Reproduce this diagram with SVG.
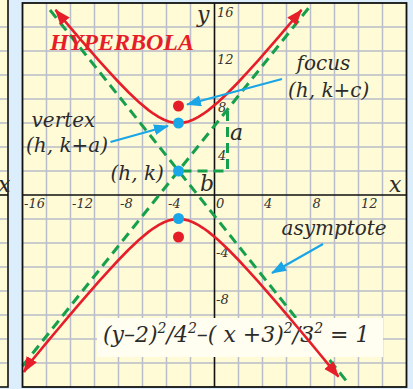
<svg xmlns="http://www.w3.org/2000/svg" width="413" height="389" viewBox="0 0 413 389">
<style>
.grid{stroke:#b9bcc9;stroke-width:1.5;fill:none}
.axis{stroke:#111;stroke-width:1.6;fill:none}
.asym{stroke:#17a04c;stroke-width:3;stroke-dasharray:10 6;fill:none}
.curve{stroke:#e61e2a;stroke-width:2.6;fill:none}
.call{stroke:#19a5e6;stroke-width:2.2;fill:none}
.lbl{font-family:"DejaVu Serif","Liberation Serif",serif;font-style:italic;fill:#2b2b2b}
.num{font-family:"DejaVu Serif","Liberation Serif",serif;font-style:italic;font-size:13px;fill:#333}
.big{font-size:20px}
.sup{font-size:14px}
</style>
<defs>
<marker id="ar" markerUnits="userSpaceOnUse" markerWidth="18" markerHeight="14" refX="15" refY="6" orient="auto-start-reverse" viewBox="0 0 18 14">
<path d="M0,0 L16,6 L0,12 Z" fill="#e61e2a"/>
</marker>
<marker id="ab" markerUnits="userSpaceOnUse" markerWidth="16" markerHeight="12" refX="14" refY="5.5" orient="auto" viewBox="0 0 16 12">
<path d="M0,0 L15,5.5 L0,11 Z" fill="#19a5e6"/>
</marker>
</defs>
<rect x="0" y="0" width="413" height="389" fill="#dcedfb"/>
<g id="left-panel">
<rect x="-3" y="-5" width="11" height="392" fill="#fffbd6" stroke="#111" stroke-width="1.6"/>
<path class="grid" d="M-3,27H7M-3,51H7M-3,75H7M-3,99H7M-3,123H7M-3,147H7M-3,171H7M-3,219H7M-3,243H7M-3,267H7M-3,291H7M-3,315H7M-3,339H7M-3,363H7"/>
<path class="axis" d="M-3,195H8"/>
<text class="lbl" x="-2" y="191.5" font-size="22">x</text>
</g>
<g id="plot">
<rect x="22.5" y="3" width="384" height="384" fill="#fffbd6"/>
<path class="grid" d="M46.5,3V387M70.5,3V387M94.5,3V387M118.5,3V387M142.5,3V387M166.5,3V387M190.5,3V387M238.5,3V387M262.5,3V387M286.5,3V387M310.5,3V387M334.5,3V387M358.5,3V387M382.5,3V387M22.5,27H406.5M22.5,51H406.5M22.5,75H406.5M22.5,99H406.5M22.5,123H406.5M22.5,147H406.5M22.5,171H406.5M22.5,219H406.5M22.5,243H406.5M22.5,267H406.5M22.5,291H406.5M22.5,315H406.5M22.5,339H406.5M22.5,363H406.5"/>
<path class="axis" d="M22.5,195H406.5M214.5,3V387"/>
<g id="ticks">
<text class="num" x="24" y="207.5">-16</text>
<text class="num" x="72" y="207.5">-12</text>
<text class="num" x="120" y="207.5">-8</text>
<text class="num" x="168" y="207.5">-4</text>
<text class="num" x="216" y="207.5">0</text>
<text class="num" x="264" y="207.5">4</text>
<text class="num" x="312.5" y="207.5">8</text>
<text class="num" x="361" y="207.5">12</text>
<text class="num" x="217" y="16.5">16</text>
<text class="num" x="217" y="64">12</text>
<text class="num" x="218" y="112">8</text>
<text class="num" x="218" y="160">4</text>
<text class="num" x="216" y="256.5">-4</text>
<text class="num" x="216" y="304">-8</text>
</g>
<text class="lbl" x="197" y="22" font-size="22">y</text>
<text class="lbl" x="389" y="191.5" font-size="22">x</text>
</g>
<g id="asymptotes">
<path class="asym" d="M50,10L348,383"/>
<path class="asym" d="M22.5,366L311,5"/>
<path class="asym" d="M227.5,111V171H179"/>
</g>
<g id="equation">
<rect x="97" y="318" width="286" height="39" fill="#fffef0"/>
<text class="lbl" x="103" y="342" font-size="22">(y–2)<tspan class="sup" dy="-9">2</tspan><tspan dy="9">/4</tspan><tspan class="sup" dy="-9">2</tspan><tspan dy="9">–( x +3)</tspan><tspan class="sup" dy="-9">2</tspan><tspan dy="9">/3</tspan><tspan class="sup" dy="-9">2</tspan><tspan dy="9"> = 1</tspan></text>
</g>
<g id="hyperbola">
<path id="upper-branch" class="curve" marker-start="url(#ar)" marker-end="url(#ar)" d="M55.5,9.9L58.5,13.5L68.5,25.4L78.5,37.1L88.5,48.7L98.5,60.1L108.5,71.2L118.5,82L128.5,92.2L138.5,101.7L148.5,110.1L153.5,113.7L158.5,116.9L163.5,119.5L168.5,121.4L173.5,122.6L178.5,123L183.5,122.6L188.5,121.4L193.5,119.5L198.5,116.9L203.5,113.7L208.5,110.1L218.5,101.7L228.5,92.2L238.5,82L248.5,71.2L258.5,60.1L268.5,48.7L278.5,37.1L288.5,25.4L298.5,13.5L301.5,9.9"/>
<path id="lower-branch" class="curve" marker-start="url(#ar)" marker-end="url(#ar)" d="M24,372L28.5,364.6L38.5,352.5L48.5,340.4L58.5,328.5L68.5,316.6L78.5,304.9L88.5,293.3L98.5,281.9L108.5,270.8L118.5,260L128.5,249.8L138.5,240.3L148.5,231.9L153.5,228.3L158.5,225.1L163.5,222.5L168.5,220.6L173.5,219.4L178.5,219L183.5,219.4L188.5,220.6L193.5,222.5L198.5,225.1L203.5,228.3L208.5,231.9L218.5,240.3L228.5,249.8L238.5,260L248.5,270.8L258.5,281.9L268.5,293.3L278.5,304.9L288.5,316.6L298.5,328.5L308.5,340.4L318.5,352.5L328.5,364.6L338.5,376.7"/>
</g>
<g id="points">
<circle id="focus-top" cx="178.5" cy="106" r="5.5" fill="#e41e26"/>
<circle id="vertex-top" cx="178.5" cy="123" r="5.5" fill="#1aa7e8"/>
<circle id="center" cx="178.5" cy="171" r="5.5" fill="#1aa7e8"/>
<circle id="vertex-bottom" cx="178.5" cy="218.5" r="5.5" fill="#1aa7e8"/>
<circle id="focus-bottom" cx="178.5" cy="237" r="5.5" fill="#e41e26"/>
</g>
<g id="callouts">
<path class="call" marker-end="url(#ab)" d="M282,79L187,104.5"/>
<path class="call" marker-end="url(#ab)" d="M110.5,142L168,126"/>
<path class="call" marker-end="url(#ab)" d="M323,244L272,273"/>
</g>
<g id="labels">
<text x="50" y="50" font-family="'Liberation Serif',serif" font-weight="bold" font-style="italic" font-size="24" fill="#e61e2a">HYPERBOLA</text>
<text class="lbl big" x="296.5" y="70">focus</text>
<text class="lbl big" x="288" y="96.5">(h, k+c)</text>
<text class="lbl big" x="31.5" y="127">vertex</text>
<text class="lbl big" x="26" y="152">(h, k+a)</text>
<text class="lbl big" x="110.5" y="180">(h, k)</text>
<text class="lbl" x="230" y="140" font-size="22">a</text>
<text class="lbl" x="200" y="191" font-size="22">b</text>
<text class="lbl big" x="281.5" y="235">asymptote</text>
</g>
<rect x="22.5" y="3" width="384" height="384" fill="none" stroke="#111" stroke-width="1.8"/>
</svg>
